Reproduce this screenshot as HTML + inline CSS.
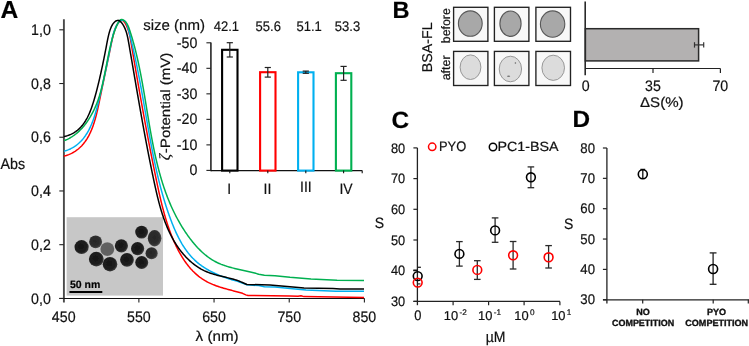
<!DOCTYPE html>
<html><head><meta charset="utf-8"><title>Figure</title>
<style>
html,body{margin:0;padding:0;background:#fff;}
body{width:749px;height:346px;overflow:hidden;}
svg{display:block;font-family:"Liberation Sans", sans-serif;will-change:transform;text-rendering:geometricPrecision;}
text{stroke:#111;stroke-width:0.2px;}
</style></head>
<body>
<svg width="749" height="346" viewBox="0 0 749 346">
<rect width="749" height="346" fill="#fff"/>
<text x="0.40" y="18.10" font-size="24.60" text-anchor="start" font-weight="bold" fill="#000" >A</text>
<line x1="63.90" y1="19.20" x2="63.90" y2="302.50" stroke="#4a4a4a" stroke-width="1.90"/>
<line x1="59.30" y1="298.50" x2="364.60" y2="298.50" stroke="#111" stroke-width="1.10"/>
<line x1="59.30" y1="29.80" x2="63.80" y2="29.80" stroke="#222" stroke-width="1.10"/>
<text x="50.80" y="34.90" font-size="15.19" text-anchor="end" font-weight="normal" fill="#111"  textLength="19.74" lengthAdjust="spacingAndGlyphs">1,0</text>
<line x1="59.30" y1="83.52" x2="63.80" y2="83.52" stroke="#222" stroke-width="1.10"/>
<text x="50.80" y="88.62" font-size="15.19" text-anchor="end" font-weight="normal" fill="#111"  textLength="19.74" lengthAdjust="spacingAndGlyphs">0,8</text>
<line x1="59.30" y1="137.24" x2="63.80" y2="137.24" stroke="#222" stroke-width="1.10"/>
<text x="50.80" y="142.34" font-size="15.19" text-anchor="end" font-weight="normal" fill="#111"  textLength="19.74" lengthAdjust="spacingAndGlyphs">0,6</text>
<line x1="59.30" y1="190.96" x2="63.80" y2="190.96" stroke="#222" stroke-width="1.10"/>
<text x="50.80" y="196.06" font-size="15.19" text-anchor="end" font-weight="normal" fill="#111"  textLength="19.74" lengthAdjust="spacingAndGlyphs">0,4</text>
<line x1="59.30" y1="244.68" x2="63.80" y2="244.68" stroke="#222" stroke-width="1.10"/>
<text x="50.80" y="249.78" font-size="15.19" text-anchor="end" font-weight="normal" fill="#111"  textLength="19.74" lengthAdjust="spacingAndGlyphs">0,2</text>
<line x1="59.30" y1="298.40" x2="63.80" y2="298.40" stroke="#222" stroke-width="1.10"/>
<text x="50.80" y="303.50" font-size="15.19" text-anchor="end" font-weight="normal" fill="#111"  textLength="19.74" lengthAdjust="spacingAndGlyphs">0,0</text>
<line x1="138.88" y1="298.50" x2="138.88" y2="302.60" stroke="#222" stroke-width="1.10"/>
<line x1="214.05" y1="298.50" x2="214.05" y2="302.60" stroke="#222" stroke-width="1.10"/>
<line x1="289.23" y1="298.50" x2="289.23" y2="302.60" stroke="#222" stroke-width="1.10"/>
<line x1="364.40" y1="298.50" x2="364.40" y2="302.60" stroke="#222" stroke-width="1.10"/>
<text x="63.70" y="321.60" font-size="15.19" text-anchor="middle" font-weight="normal" fill="#111"  textLength="23.69" lengthAdjust="spacingAndGlyphs">450</text>
<text x="138.88" y="321.60" font-size="15.19" text-anchor="middle" font-weight="normal" fill="#111"  textLength="23.69" lengthAdjust="spacingAndGlyphs">550</text>
<text x="214.05" y="321.60" font-size="15.19" text-anchor="middle" font-weight="normal" fill="#111"  textLength="23.69" lengthAdjust="spacingAndGlyphs">650</text>
<text x="289.23" y="321.60" font-size="15.19" text-anchor="middle" font-weight="normal" fill="#111"  textLength="23.69" lengthAdjust="spacingAndGlyphs">750</text>
<text x="364.40" y="321.60" font-size="15.19" text-anchor="middle" font-weight="normal" fill="#111"  textLength="23.69" lengthAdjust="spacingAndGlyphs">850</text>
<text x="217.10" y="341.30" font-size="14.30" text-anchor="middle" font-weight="normal" fill="#111" textLength="43.0" lengthAdjust="spacingAndGlyphs">&#955; (nm)</text>
<text x="0.40" y="168.80" font-size="15.30" text-anchor="start" font-weight="normal" fill="#111"  textLength="24.64" lengthAdjust="spacingAndGlyphs">Abs</text>
<defs><filter id="pb" x="-20%" y="-20%" width="140%" height="140%"><feGaussianBlur stdDeviation="0.55"/></filter><radialGradient id="pd" cx="45%" cy="45%" r="55%"><stop offset="0" stop-color="#151515"/><stop offset="0.75" stop-color="#1e1e1e"/><stop offset="1" stop-color="#3a3a3a"/></radialGradient><radialGradient id="pm" cx="45%" cy="45%" r="55%"><stop offset="0" stop-color="#262626"/><stop offset="0.75" stop-color="#2e2e2e"/><stop offset="1" stop-color="#4a4a4a"/></radialGradient><radialGradient id="pl" cx="50%" cy="50%" r="55%"><stop offset="0" stop-color="#5e5e5e"/><stop offset="0.8" stop-color="#616161"/><stop offset="1" stop-color="#7a7a7a"/></radialGradient></defs>
<rect x="66.6" y="217.2" width="96.4" height="78.4" fill="#c7c7c7"/>
<g filter="url(#pb)">
<ellipse cx="81.6" cy="247.1" rx="7.1" ry="7.0" fill="url(#pd)"/>
<ellipse cx="95.6" cy="241.8" rx="6.5" ry="6.4" fill="url(#pm)"/>
<ellipse cx="107.3" cy="249.1" rx="7.0" ry="6.9" fill="url(#pl)"/>
<ellipse cx="121.4" cy="245.8" rx="6.6" ry="6.6" fill="url(#pd)"/>
<ellipse cx="137.6" cy="248.6" rx="6.6" ry="6.6" fill="url(#pd)"/>
<ellipse cx="141.6" cy="232.1" rx="6.4" ry="6.4" fill="url(#pd)"/>
<ellipse cx="154.6" cy="238.3" rx="6.8" ry="8.2" fill="url(#pm)"/>
<ellipse cx="151.6" cy="253.3" rx="6.1" ry="6.0" fill="url(#pm)"/>
<ellipse cx="141.7" cy="262.5" rx="6.5" ry="6.5" fill="url(#pd)"/>
<ellipse cx="127.0" cy="259.8" rx="6.9" ry="6.9" fill="url(#pd)"/>
<ellipse cx="110.0" cy="264.2" rx="7.3" ry="7.2" fill="url(#pd)"/>
<ellipse cx="96.3" cy="259.1" rx="7.4" ry="7.3" fill="url(#pd)"/>
</g>
<text x="69.90" y="287.60" font-size="10.50" text-anchor="start" font-weight="bold" fill="#000" >50 nm</text>
<line x1="69.40" y1="291.90" x2="102.30" y2="291.90" stroke="#000" stroke-width="2.00"/>
<path d="M63.87,156.19 L65.13,155.84 L66.37,155.46 L67.57,155.05 L68.74,154.61 L69.87,154.13 L70.98,153.62 L72.05,153.09 L73.10,152.52 L74.11,151.93 L75.10,151.31 L76.06,150.66 L76.99,149.98 L77.90,149.28 L78.78,148.55 L79.63,147.80 L80.45,147.02 L81.25,146.22 L82.03,145.40 L82.78,144.55 L83.51,143.69 L84.22,142.80 L84.91,141.90 L85.57,140.97 L86.21,140.03 L86.83,139.07 L87.43,138.09 L88.01,137.10 L88.58,136.09 L89.12,135.06 L89.64,134.02 L90.15,132.96 L90.64,131.90 L91.12,130.82 L91.58,129.73 L92.02,128.62 L92.45,127.51 L92.87,126.39 L93.27,125.25 L93.66,124.11 L94.04,122.97 L94.40,121.81 L94.75,120.65 L95.10,119.48 L95.43,118.31 L95.75,117.13 L96.06,115.95 L96.37,114.77 L96.66,113.58 L96.95,112.39 L97.23,111.20 L97.51,110.02 L97.77,108.83 L98.04,107.64 L98.30,106.45 L98.55,105.27 L98.80,104.09 L99.05,102.91 L99.29,101.74 L99.53,100.57 L99.77,99.41 L100.01,98.25 L100.25,97.10 L100.48,95.96 L100.72,94.82 L100.95,93.68 L101.19,92.55 L101.42,91.43 L101.65,90.31 L101.88,89.19 L102.11,88.07 L102.34,86.96 L102.57,85.85 L102.80,84.74 L103.03,83.63 L103.26,82.52 L103.49,81.42 L103.72,80.31 L103.95,79.21 L104.18,78.11 L104.40,77.00 L104.63,75.90 L104.86,74.79 L105.09,73.68 L105.32,72.57 L105.55,71.46 L105.79,70.34 L106.02,69.22 L106.25,68.10 L106.49,66.98 L106.72,65.85 L106.96,64.72 L107.19,63.58 L107.43,62.44 L107.67,61.29 L107.91,60.14 L108.15,58.98 L108.40,57.81 L108.64,56.64 L108.89,55.46 L109.13,54.27 L109.38,53.07 L109.63,51.87 L109.89,50.66 L110.14,49.44 L110.40,48.21 L110.66,46.97 L110.92,45.72 L111.18,44.46 L111.45,43.19 L111.72,41.91 L111.99,40.62 L112.27,39.34 L112.56,38.06 L112.86,36.79 L113.17,35.53 L113.49,34.28 L113.83,33.06 L114.18,31.86 L114.55,30.69 L114.94,29.56 L115.35,28.46 L115.78,27.41 L116.24,26.40 L116.72,25.44 L117.23,24.53 L117.78,23.69 L118.35,22.91 L118.95,22.19 L119.59,21.55 L120.26,20.98 L120.96,20.54 L121.68,20.29 L122.40,20.34 L123.11,20.71 L123.80,21.34 L124.46,22.18 L125.09,23.15 L125.68,24.19 L126.23,25.25 L126.74,26.32 L127.21,27.41 L127.64,28.52 L128.05,29.63 L128.42,30.76 L128.76,31.90 L129.08,33.05 L129.38,34.21 L129.65,35.37 L129.91,36.54 L130.15,37.72 L130.38,38.90 L130.60,40.09 L130.81,41.28 L131.01,42.47 L131.22,43.65 L131.42,44.84 L131.62,46.03 L131.82,47.22 L132.02,48.40 L132.22,49.59 L132.42,50.77 L132.63,51.95 L132.83,53.14 L133.03,54.32 L133.23,55.50 L133.43,56.68 L133.63,57.86 L133.83,59.03 L134.04,60.21 L134.24,61.39 L134.44,62.56 L134.64,63.74 L134.84,64.91 L135.04,66.08 L135.25,67.25 L135.45,68.42 L135.65,69.60 L135.85,70.77 L136.05,71.93 L136.26,73.10 L136.46,74.27 L136.66,75.44 L136.86,76.60 L137.07,77.77 L137.27,78.94 L137.47,80.10 L137.67,81.26 L137.88,82.43 L138.08,83.59 L138.28,84.75 L138.49,85.91 L138.69,87.07 L138.90,88.24 L139.10,89.40 L139.31,90.56 L139.51,91.71 L139.71,92.87 L139.92,94.03 L140.13,95.19 L140.33,96.35 L140.54,97.50 L140.74,98.66 L140.95,99.81 L141.16,100.97 L141.36,102.12 L141.57,103.28 L141.78,104.43 L141.99,105.59 L142.19,106.74 L142.40,107.89 L142.61,109.05 L142.82,110.20 L143.03,111.35 L143.24,112.50 L143.45,113.66 L143.66,114.81 L143.87,115.96 L144.08,117.11 L144.29,118.26 L144.50,119.41 L144.72,120.56 L144.93,121.71 L145.14,122.86 L145.35,124.01 L145.57,125.16 L145.78,126.31 L146.00,127.46 L146.21,128.61 L146.43,129.76 L146.64,130.91 L146.86,132.06 L147.08,133.21 L147.29,134.35 L147.51,135.50 L147.73,136.65 L147.95,137.80 L148.17,138.95 L148.39,140.10 L148.61,141.25 L148.83,142.40 L149.05,143.55 L149.27,144.69 L149.49,145.84 L149.72,146.99 L149.94,148.14 L150.16,149.29 L150.39,150.44 L150.61,151.59 L150.84,152.74 L151.06,153.89 L151.29,155.04 L151.52,156.19 L151.75,157.34 L151.97,158.49 L152.20,159.64 L152.43,160.79 L152.66,161.94 L152.89,163.09 L153.13,164.25 L153.36,165.40 L153.59,166.55 L153.82,167.70 L154.06,168.86 L154.29,170.01 L154.53,171.16 L154.77,172.32 L155.00,173.47 L155.24,174.63 L155.48,175.78 L155.72,176.94 L155.96,178.09 L156.20,179.25 L156.44,180.40 L156.68,181.56 L156.92,182.72 L157.17,183.88 L157.41,185.03 L157.66,186.19 L157.91,187.35 L158.16,188.51 L158.41,189.67 L158.66,190.82 L158.92,191.98 L159.17,193.14 L159.43,194.30 L159.70,195.45 L159.96,196.61 L160.23,197.76 L160.50,198.92 L160.77,200.07 L161.04,201.22 L161.32,202.38 L161.60,203.53 L161.89,204.68 L162.18,205.83 L162.47,206.97 L162.77,208.12 L163.07,209.27 L163.37,210.41 L163.68,211.55 L163.99,212.69 L164.31,213.83 L164.63,214.97 L164.96,216.11 L165.29,217.24 L165.63,218.37 L165.97,219.50 L166.32,220.63 L166.67,221.76 L167.03,222.88 L167.39,224.00 L167.76,225.12 L168.13,226.24 L168.51,227.35 L168.90,228.47 L169.29,229.57 L169.69,230.68 L170.10,231.78 L170.51,232.89 L170.93,233.98 L171.36,235.08 L171.80,236.17 L172.24,237.26 L172.69,238.35 L173.14,239.43 L173.61,240.51 L174.08,241.58 L174.56,242.66 L175.04,243.72 L175.54,244.79 L176.04,245.85 L176.55,246.91 L177.08,247.96 L177.61,249.01 L178.14,250.05 L178.69,251.09 L179.25,252.12 L179.82,253.15 L180.40,254.17 L180.98,255.18 L181.58,256.19 L182.19,257.18 L182.81,258.17 L183.44,259.15 L184.08,260.12 L184.74,261.09 L185.40,262.04 L186.08,262.98 L186.77,263.91 L187.48,264.83 L188.19,265.74 L188.92,266.64 L189.66,267.52 L190.42,268.40 L191.18,269.26 L191.97,270.10 L192.76,270.94 L193.58,271.76 L194.40,272.56 L195.24,273.35 L196.10,274.13 L196.97,274.89 L197.85,275.63 L198.75,276.36 L199.67,277.07 L200.61,277.76 L201.56,278.43 L202.52,279.09 L203.51,279.73 L204.51,280.35 L205.52,280.95 L206.56,281.53 L207.61,282.10 L208.68,282.64 L209.77,283.16 L210.87,283.66 L211.99,284.15 L213.12,284.62 L214.26,285.07 L215.40,285.50 L216.56,285.92 L217.72,286.33 L218.88,286.72 L220.05,287.10 L221.22,287.47 L222.38,287.82 L223.55,288.17 L224.71,288.50 L225.86,288.83 L227.01,289.14 L228.15,289.45 L229.28,289.76 L230.40,290.05 L231.50,290.34 L232.59,290.63 L233.66,290.91 L234.71,291.19 L235.75,291.47 L236.76,291.75 L242.50,293.30 L245.80,294.90 L248.00,295.50 L290.00,296.00 L298.00,296.30 L301.00,295.80 L304.00,296.60 L364.00,297.40" fill="none" stroke="#ff0000" stroke-width="1.5" stroke-linejoin="round"/>
<path d="M63.97,151.25 L65.17,150.90 L66.34,150.52 L67.47,150.11 L68.58,149.67 L69.66,149.20 L70.71,148.70 L71.74,148.18 L72.74,147.63 L73.71,147.05 L74.66,146.44 L75.58,145.82 L76.48,145.16 L77.35,144.48 L78.20,143.78 L79.02,143.06 L79.82,142.31 L80.60,141.55 L81.36,140.76 L82.09,139.95 L82.81,139.12 L83.50,138.28 L84.18,137.41 L84.83,136.53 L85.47,135.63 L86.08,134.71 L86.68,133.78 L87.26,132.83 L87.83,131.86 L88.38,130.89 L88.91,129.90 L89.42,128.89 L89.92,127.88 L90.41,126.85 L90.88,125.81 L91.34,124.76 L91.78,123.70 L92.21,122.63 L92.63,121.55 L93.04,120.47 L93.43,119.38 L93.82,118.28 L94.19,117.17 L94.55,116.06 L94.91,114.95 L95.25,113.83 L95.59,112.70 L95.92,111.58 L96.24,110.45 L96.56,109.31 L96.87,108.18 L97.17,107.05 L97.46,105.92 L97.76,104.78 L98.04,103.65 L98.32,102.52 L98.60,101.39 L98.88,100.27 L99.15,99.15 L99.42,98.03 L99.69,96.92 L99.95,95.81 L100.22,94.70 L100.48,93.60 L100.74,92.50 L101.00,91.40 L101.25,90.31 L101.50,89.21 L101.75,88.12 L102.00,87.03 L102.25,85.95 L102.50,84.86 L102.74,83.77 L102.98,82.69 L103.23,81.61 L103.47,80.53 L103.70,79.44 L103.94,78.36 L104.18,77.28 L104.41,76.20 L104.65,75.12 L104.88,74.03 L105.11,72.95 L105.35,71.87 L105.58,70.78 L105.81,69.69 L106.04,68.61 L106.26,67.52 L106.49,66.42 L106.72,65.33 L106.95,64.24 L107.18,63.14 L107.40,62.04 L107.63,60.93 L107.86,59.82 L108.09,58.71 L108.31,57.60 L108.54,56.48 L108.77,55.36 L109.00,54.23 L109.22,53.11 L109.45,51.97 L109.68,50.83 L109.91,49.69 L110.14,48.54 L110.37,47.39 L110.61,46.23 L110.84,45.06 L111.07,43.89 L111.31,42.71 L111.54,41.53 L111.79,40.35 L112.04,39.17 L112.30,37.99 L112.57,36.82 L112.86,35.65 L113.16,34.50 L113.48,33.35 L113.82,32.22 L114.18,31.11 L114.56,30.01 L114.98,28.93 L115.42,27.88 L115.89,26.86 L116.39,25.86 L116.93,24.89 L117.51,23.95 L118.13,23.05 L118.78,22.21 L119.47,21.48 L120.19,20.88 L120.94,20.46 L121.71,20.24 L122.50,20.21 L123.26,20.36 L124.00,20.68 L124.68,21.15 L125.29,21.76 L125.84,22.49 L126.33,23.32 L126.78,24.26 L127.19,25.27 L127.56,26.34 L127.91,27.46 L128.23,28.62 L128.54,29.80 L128.85,30.98 L129.15,32.16 L129.45,33.34 L129.75,34.51 L130.04,35.69 L130.33,36.86 L130.62,38.03 L130.91,39.19 L131.19,40.36 L131.47,41.52 L131.74,42.68 L132.02,43.84 L132.29,45.00 L132.56,46.15 L132.82,47.30 L133.09,48.45 L133.35,49.60 L133.61,50.75 L133.86,51.90 L134.12,53.04 L134.37,54.18 L134.62,55.33 L134.86,56.46 L135.11,57.60 L135.35,58.74 L135.59,59.87 L135.83,61.01 L136.07,62.14 L136.30,63.27 L136.54,64.40 L136.77,65.52 L137.00,66.65 L137.22,67.78 L137.45,68.90 L137.67,70.02 L137.90,71.14 L138.12,72.27 L138.34,73.38 L138.55,74.50 L138.77,75.62 L138.98,76.74 L139.20,77.85 L139.41,78.97 L139.62,80.08 L139.83,81.19 L140.04,82.31 L140.25,83.42 L140.45,84.53 L140.66,85.64 L140.86,86.75 L141.06,87.85 L141.27,88.96 L141.47,90.07 L141.67,91.18 L141.87,92.28 L142.06,93.39 L142.26,94.49 L142.46,95.60 L142.66,96.70 L142.85,97.81 L143.05,98.91 L143.24,100.02 L143.44,101.12 L143.63,102.22 L143.82,103.33 L144.02,104.43 L144.21,105.53 L144.40,106.63 L144.59,107.74 L144.79,108.84 L144.98,109.94 L145.17,111.05 L145.36,112.15 L145.55,113.25 L145.75,114.36 L145.94,115.46 L146.13,116.56 L146.32,117.67 L146.51,118.77 L146.71,119.88 L146.90,120.98 L147.09,122.09 L147.29,123.20 L147.48,124.30 L147.68,125.41 L147.87,126.52 L148.07,127.63 L148.26,128.74 L148.46,129.84 L148.66,130.96 L148.86,132.07 L149.06,133.18 L149.26,134.29 L149.46,135.40 L149.66,136.52 L149.86,137.63 L150.07,138.75 L150.27,139.86 L150.48,140.98 L150.68,142.09 L150.89,143.21 L151.10,144.33 L151.31,145.44 L151.53,146.56 L151.74,147.68 L151.95,148.79 L152.17,149.91 L152.39,151.03 L152.61,152.15 L152.83,153.27 L153.05,154.39 L153.28,155.50 L153.50,156.62 L153.73,157.74 L153.96,158.86 L154.19,159.98 L154.42,161.10 L154.66,162.21 L154.90,163.33 L155.14,164.45 L155.38,165.57 L155.62,166.69 L155.87,167.80 L156.11,168.92 L156.36,170.04 L156.62,171.15 L156.87,172.27 L157.13,173.38 L157.39,174.50 L157.65,175.61 L157.92,176.73 L158.18,177.84 L158.45,178.95 L158.73,180.06 L159.00,181.18 L159.28,182.29 L159.56,183.40 L159.84,184.51 L160.13,185.62 L160.42,186.72 L160.71,187.83 L161.01,188.94 L161.31,190.04 L161.61,191.15 L161.91,192.25 L162.22,193.35 L162.53,194.45 L162.84,195.55 L163.16,196.65 L163.48,197.75 L163.81,198.85 L164.14,199.95 L164.47,201.04 L164.80,202.14 L165.14,203.23 L165.48,204.32 L165.83,205.41 L166.18,206.50 L166.53,207.59 L166.89,208.67 L167.25,209.76 L167.62,210.84 L167.99,211.92 L168.36,213.00 L168.74,214.08 L169.12,215.16 L169.50,216.23 L169.89,217.31 L170.29,218.38 L170.68,219.45 L171.09,220.52 L171.49,221.59 L171.90,222.65 L172.32,223.72 L172.74,224.78 L173.17,225.83 L173.60,226.89 L174.04,227.94 L174.49,228.99 L174.94,230.03 L175.40,231.07 L175.86,232.10 L176.34,233.13 L176.82,234.16 L177.31,235.18 L177.80,236.19 L178.31,237.20 L178.82,238.21 L179.35,239.20 L179.88,240.19 L180.42,241.18 L180.97,242.15 L181.53,243.12 L182.10,244.09 L182.69,245.04 L183.28,245.99 L183.88,246.93 L184.50,247.86 L185.12,248.78 L185.76,249.69 L186.41,250.59 L187.08,251.48 L187.75,252.37 L188.44,253.24 L189.14,254.10 L189.86,254.96 L190.58,255.80 L191.33,256.63 L192.08,257.45 L192.85,258.26 L193.64,259.05 L194.44,259.84 L195.26,260.61 L196.09,261.37 L196.93,262.12 L197.80,262.85 L198.68,263.57 L199.57,264.28 L200.49,264.97 L201.41,265.65 L202.36,266.31 L203.32,266.96 L204.29,267.60 L205.27,268.23 L206.27,268.84 L207.28,269.44 L208.29,270.02 L209.32,270.59 L210.36,271.15 L211.40,271.70 L212.45,272.23 L213.51,272.75 L214.57,273.26 L215.64,273.75 L216.71,274.24 L217.79,274.71 L218.87,275.16 L219.95,275.61 L221.03,276.04 L222.11,276.46 L223.19,276.87 L224.27,277.27 L225.35,277.65 L226.42,278.03 L227.49,278.39 L228.55,278.74 L229.61,279.08 L230.67,279.40 L231.71,279.72 L232.75,280.02 L233.78,280.31 L234.80,280.60 L235.81,280.87 L236.81,281.13 L246.90,284.80 L258.90,285.60 L264.40,286.70 L275.00,287.10 L290.00,288.50 L306.00,290.10 L336.00,291.20 L364.00,291.20" fill="none" stroke="#00b0f0" stroke-width="1.5" stroke-linejoin="round"/>
<path d="M64.23,140.61 L65.28,140.20 L66.30,139.77 L67.32,139.31 L68.32,138.82 L69.30,138.31 L70.27,137.77 L71.22,137.20 L72.16,136.62 L73.08,136.00 L73.99,135.37 L74.89,134.71 L75.77,134.03 L76.63,133.33 L77.48,132.61 L78.32,131.86 L79.14,131.10 L79.95,130.32 L80.74,129.52 L81.52,128.70 L82.28,127.87 L83.03,127.02 L83.77,126.15 L84.49,125.27 L85.20,124.37 L85.89,123.46 L86.57,122.53 L87.24,121.59 L87.89,120.64 L88.53,119.68 L89.15,118.71 L89.76,117.72 L90.36,116.73 L90.94,115.72 L91.51,114.71 L92.07,113.69 L92.61,112.66 L93.14,111.62 L93.66,110.58 L94.16,109.53 L94.65,108.48 L95.13,107.42 L95.59,106.36 L96.04,105.29 L96.48,104.22 L96.90,103.15 L97.31,102.08 L97.71,101.01 L98.10,99.93 L98.47,98.86 L98.83,97.79 L99.18,96.71 L99.51,95.64 L99.84,94.56 L100.16,93.49 L100.46,92.41 L100.76,91.34 L101.05,90.26 L101.33,89.18 L101.60,88.10 L101.87,87.02 L102.13,85.94 L102.38,84.86 L102.63,83.77 L102.87,82.68 L103.11,81.60 L103.34,80.50 L103.57,79.41 L103.80,78.31 L104.03,77.21 L104.25,76.11 L104.48,75.01 L104.70,73.90 L104.92,72.79 L105.14,71.68 L105.36,70.56 L105.58,69.45 L105.80,68.33 L106.02,67.21 L106.24,66.09 L106.46,64.97 L106.68,63.84 L106.90,62.72 L107.12,61.60 L107.34,60.47 L107.57,59.35 L107.79,58.22 L108.02,57.10 L108.25,55.98 L108.48,54.86 L108.72,53.74 L108.95,52.62 L109.19,51.50 L109.43,50.38 L109.67,49.27 L109.92,48.16 L110.17,47.05 L110.42,45.94 L110.68,44.84 L110.94,43.74 L111.21,42.64 L111.48,41.54 L111.75,40.45 L112.04,39.36 L112.33,38.27 L112.64,37.18 L112.95,36.09 L113.28,35.00 L113.62,33.92 L113.98,32.83 L114.35,31.73 L114.74,30.64 L115.15,29.55 L115.58,28.45 L116.03,27.35 L116.51,26.24 L117.01,25.14 L117.53,24.02 L118.08,22.92 L118.67,21.87 L119.29,20.94 L119.97,20.20 L120.70,19.72 L121.48,19.53 L122.31,19.62 L123.15,19.93 L123.97,20.43 L124.76,21.07 L125.49,21.79 L126.15,22.59 L126.75,23.44 L127.29,24.34 L127.79,25.29 L128.24,26.28 L128.66,27.30 L129.05,28.34 L129.42,29.40 L129.78,30.48 L130.13,31.55 L130.47,32.63 L130.81,33.71 L131.15,34.80 L131.48,35.88 L131.81,36.97 L132.13,38.05 L132.45,39.14 L132.76,40.23 L133.07,41.33 L133.38,42.42 L133.68,43.52 L133.98,44.61 L134.27,45.71 L134.56,46.81 L134.85,47.91 L135.13,49.02 L135.41,50.12 L135.68,51.23 L135.96,52.33 L136.23,53.44 L136.49,54.55 L136.75,55.66 L137.01,56.77 L137.27,57.89 L137.52,59.00 L137.77,60.12 L138.02,61.23 L138.27,62.35 L138.51,63.47 L138.75,64.59 L138.98,65.71 L139.22,66.83 L139.45,67.95 L139.68,69.08 L139.90,70.20 L140.13,71.33 L140.35,72.45 L140.57,73.58 L140.79,74.71 L141.01,75.83 L141.22,76.96 L141.43,78.09 L141.64,79.22 L141.85,80.35 L142.06,81.49 L142.26,82.62 L142.47,83.75 L142.67,84.88 L142.87,86.02 L143.07,87.15 L143.27,88.29 L143.47,89.42 L143.66,90.56 L143.86,91.69 L144.05,92.83 L144.24,93.97 L144.44,95.10 L144.63,96.24 L144.82,97.38 L145.01,98.52 L145.20,99.65 L145.39,100.79 L145.57,101.93 L145.76,103.07 L145.95,104.20 L146.14,105.34 L146.32,106.48 L146.51,107.62 L146.70,108.76 L146.89,109.89 L147.07,111.03 L147.26,112.17 L147.45,113.31 L147.63,114.44 L147.82,115.58 L148.01,116.72 L148.20,117.85 L148.39,118.99 L148.58,120.13 L148.77,121.26 L148.96,122.40 L149.15,123.53 L149.35,124.67 L149.54,125.80 L149.74,126.93 L149.93,128.07 L150.13,129.20 L150.33,130.33 L150.53,131.46 L150.73,132.59 L150.93,133.72 L151.14,134.85 L151.34,135.98 L151.55,137.10 L151.76,138.23 L151.97,139.36 L152.19,140.48 L152.40,141.61 L152.62,142.73 L152.84,143.85 L153.06,144.97 L153.28,146.09 L153.50,147.21 L153.73,148.33 L153.96,149.45 L154.19,150.57 L154.43,151.68 L154.67,152.80 L154.91,153.91 L155.15,155.02 L155.39,156.13 L155.64,157.24 L155.89,158.35 L156.15,159.46 L156.41,160.56 L156.67,161.67 L156.93,162.77 L157.20,163.87 L157.47,164.97 L157.74,166.07 L158.02,167.16 L158.30,168.26 L158.58,169.35 L158.87,170.45 L159.16,171.54 L159.46,172.63 L159.76,173.71 L160.06,174.80 L160.37,175.88 L160.68,176.96 L160.99,178.05 L161.31,179.12 L161.64,180.20 L161.97,181.28 L162.30,182.35 L162.63,183.42 L162.98,184.49 L163.32,185.56 L163.67,186.62 L164.03,187.69 L164.39,188.75 L164.75,189.81 L165.12,190.86 L165.50,191.92 L165.88,192.97 L166.26,194.02 L166.66,195.07 L167.05,196.12 L167.45,197.16 L167.86,198.20 L168.27,199.24 L168.69,200.28 L169.11,201.31 L169.54,202.34 L169.98,203.37 L170.42,204.40 L170.86,205.43 L171.31,206.45 L171.77,207.47 L172.24,208.49 L172.71,209.50 L173.18,210.51 L173.67,211.52 L174.16,212.53 L174.65,213.53 L175.15,214.53 L175.66,215.53 L176.18,216.53 L176.70,217.52 L177.23,218.51 L177.77,219.50 L178.31,220.48 L178.86,221.46 L179.41,222.44 L179.98,223.42 L180.55,224.39 L181.13,225.36 L181.71,226.32 L182.31,227.29 L182.91,228.25 L183.51,229.20 L184.13,230.16 L184.75,231.11 L185.38,232.06 L186.02,233.00 L186.67,233.94 L187.32,234.88 L187.98,235.81 L188.65,236.74 L189.33,237.67 L190.02,238.58 L190.72,239.50 L191.42,240.41 L192.13,241.31 L192.85,242.20 L193.58,243.09 L194.32,243.97 L195.07,244.84 L195.83,245.70 L196.60,246.55 L197.37,247.40 L198.16,248.23 L198.96,249.05 L199.76,249.86 L200.58,250.66 L201.41,251.45 L202.24,252.22 L203.09,252.98 L203.95,253.73 L204.81,254.47 L205.69,255.18 L206.58,255.89 L207.48,256.58 L208.39,257.25 L209.31,257.91 L210.25,258.55 L211.19,259.17 L212.15,259.77 L213.12,260.36 L214.09,260.93 L215.09,261.48 L216.09,262.01 L217.10,262.52 L218.13,263.01 L219.17,263.47 L220.22,263.92 L221.28,264.36 L222.35,264.77 L223.43,265.17 L224.52,265.55 L225.61,265.91 L226.72,266.27 L227.82,266.60 L228.94,266.93 L230.06,267.25 L231.18,267.55 L232.31,267.85 L233.44,268.13 L234.57,268.41 L235.71,268.68 L236.84,268.95 L237.98,269.21 L239.12,269.46 L240.25,269.71 L241.38,269.96 L242.51,270.21 L243.64,270.46 L244.77,270.70 L245.89,270.95 L247.00,271.20 L248.11,271.45 L249.21,271.70 L250.31,271.96 L251.40,272.22 L252.48,272.49 L253.55,272.76 L254.61,273.05 L255.66,273.34 L256.70,273.64 L257.73,273.95 L258.74,274.27 L264.40,275.20 L275.00,275.80 L290.00,277.30 L311.00,278.90 L337.00,280.30 L364.00,280.50" fill="none" stroke="#00b050" stroke-width="1.5" stroke-linejoin="round"/>
<path d="M63.89,136.57 L65.13,136.29 L66.33,135.97 L67.50,135.61 L68.63,135.22 L69.73,134.80 L70.79,134.34 L71.83,133.85 L72.83,133.33 L73.80,132.78 L74.75,132.19 L75.66,131.58 L76.54,130.94 L77.40,130.28 L78.23,129.58 L79.03,128.86 L79.81,128.12 L80.56,127.35 L81.29,126.56 L81.99,125.74 L82.67,124.91 L83.33,124.05 L83.97,123.17 L84.59,122.27 L85.18,121.36 L85.76,120.43 L86.31,119.48 L86.85,118.51 L87.38,117.53 L87.88,116.53 L88.37,115.52 L88.84,114.50 L89.30,113.47 L89.75,112.42 L90.18,111.36 L90.60,110.30 L91.01,109.22 L91.40,108.14 L91.79,107.05 L92.16,105.96 L92.53,104.86 L92.89,103.75 L93.24,102.64 L93.58,101.53 L93.92,100.41 L94.25,99.30 L94.58,98.18 L94.90,97.06 L95.21,95.94 L95.53,94.82 L95.83,93.71 L96.13,92.59 L96.43,91.47 L96.72,90.36 L97.01,89.25 L97.29,88.14 L97.57,87.03 L97.84,85.93 L98.11,84.83 L98.38,83.73 L98.64,82.64 L98.90,81.55 L99.16,80.46 L99.41,79.39 L99.66,78.31 L99.90,77.25 L100.14,76.19 L100.38,75.13 L100.62,74.09 L100.85,73.04 L101.08,72.01 L101.31,70.97 L101.53,69.94 L101.76,68.91 L101.98,67.88 L102.20,66.86 L102.42,65.83 L102.64,64.80 L102.86,63.77 L103.07,62.73 L103.29,61.69 L103.50,60.64 L103.72,59.59 L103.94,58.53 L104.15,57.46 L104.37,56.39 L104.58,55.30 L104.80,54.20 L105.02,53.10 L105.24,51.98 L105.46,50.84 L105.69,49.69 L105.91,48.53 L106.14,47.35 L106.37,46.16 L106.60,44.94 L106.83,43.71 L107.07,42.46 L107.31,41.20 L107.56,39.93 L107.82,38.66 L108.09,37.39 L108.38,36.13 L108.67,34.89 L108.98,33.66 L109.31,32.45 L109.66,31.27 L110.03,30.12 L110.42,29.01 L110.84,27.94 L111.28,26.91 L111.75,25.94 L112.25,25.02 L112.78,24.17 L113.34,23.38 L113.94,22.66 L114.58,22.02 L115.25,21.45 L115.96,20.98 L116.71,20.60 L117.49,20.38 L118.27,20.35 L119.06,20.57 L119.83,21.01 L120.58,21.63 L121.31,22.40 L122.00,23.26 L122.65,24.19 L123.25,25.13 L123.81,26.10 L124.33,27.09 L124.80,28.10 L125.24,29.13 L125.65,30.18 L126.03,31.24 L126.38,32.32 L126.70,33.41 L126.99,34.51 L127.27,35.62 L127.53,36.74 L127.77,37.87 L128.00,39.00 L128.21,40.14 L128.42,41.28 L128.63,42.43 L128.83,43.57 L129.02,44.71 L129.22,45.85 L129.42,46.99 L129.62,48.13 L129.81,49.27 L130.01,50.41 L130.21,51.54 L130.40,52.68 L130.60,53.81 L130.79,54.94 L130.99,56.08 L131.18,57.21 L131.37,58.33 L131.57,59.46 L131.76,60.59 L131.96,61.72 L132.15,62.84 L132.34,63.97 L132.53,65.09 L132.73,66.21 L132.92,67.33 L133.11,68.45 L133.30,69.57 L133.50,70.69 L133.69,71.81 L133.88,72.93 L134.07,74.05 L134.26,75.16 L134.45,76.28 L134.64,77.39 L134.83,78.50 L135.03,79.62 L135.22,80.73 L135.41,81.84 L135.60,82.95 L135.79,84.06 L135.98,85.17 L136.17,86.28 L136.36,87.39 L136.55,88.49 L136.74,89.60 L136.94,90.71 L137.13,91.81 L137.32,92.92 L137.51,94.02 L137.70,95.13 L137.89,96.23 L138.08,97.33 L138.28,98.44 L138.47,99.54 L138.66,100.64 L138.85,101.74 L139.04,102.84 L139.24,103.94 L139.43,105.04 L139.62,106.14 L139.82,107.24 L140.01,108.34 L140.20,109.44 L140.40,110.54 L140.59,111.64 L140.79,112.74 L140.98,113.83 L141.18,114.93 L141.37,116.03 L141.57,117.12 L141.77,118.22 L141.96,119.32 L142.16,120.41 L142.36,121.51 L142.56,122.61 L142.75,123.70 L142.95,124.80 L143.15,125.89 L143.35,126.99 L143.55,128.09 L143.75,129.18 L143.95,130.28 L144.16,131.37 L144.36,132.47 L144.56,133.56 L144.76,134.66 L144.97,135.75 L145.17,136.85 L145.38,137.95 L145.58,139.04 L145.79,140.14 L145.99,141.23 L146.20,142.33 L146.41,143.43 L146.62,144.52 L146.83,145.62 L147.04,146.72 L147.25,147.81 L147.46,148.91 L147.67,150.01 L147.88,151.11 L148.09,152.21 L148.31,153.30 L148.52,154.40 L148.74,155.50 L148.95,156.60 L149.17,157.70 L149.39,158.80 L149.61,159.90 L149.83,161.00 L150.05,162.10 L150.27,163.21 L150.49,164.31 L150.71,165.41 L150.94,166.51 L151.16,167.62 L151.39,168.72 L151.61,169.83 L151.84,170.93 L152.07,172.04 L152.30,173.14 L152.53,174.25 L152.76,175.36 L152.99,176.47 L153.22,177.58 L153.46,178.69 L153.69,179.80 L153.93,180.91 L154.16,182.02 L154.40,183.13 L154.64,184.24 L154.88,185.35 L155.13,186.47 L155.37,187.58 L155.62,188.69 L155.87,189.80 L156.12,190.91 L156.38,192.03 L156.64,193.14 L156.90,194.25 L157.16,195.35 L157.43,196.46 L157.70,197.57 L157.97,198.68 L158.25,199.78 L158.53,200.88 L158.82,201.98 L159.11,203.08 L159.40,204.18 L159.70,205.28 L160.01,206.37 L160.32,207.47 L160.63,208.56 L160.95,209.64 L161.27,210.73 L161.61,211.81 L161.94,212.89 L162.28,213.97 L162.63,215.04 L162.99,216.11 L163.35,217.18 L163.71,218.24 L164.09,219.31 L164.47,220.36 L164.86,221.42 L165.25,222.47 L165.65,223.51 L166.06,224.56 L166.48,225.59 L166.91,226.63 L167.34,227.66 L167.78,228.68 L168.23,229.70 L168.69,230.72 L169.16,231.73 L169.63,232.74 L170.12,233.74 L170.61,234.73 L171.12,235.72 L171.63,236.71 L172.15,237.69 L172.68,238.66 L173.23,239.63 L173.78,240.59 L174.34,241.55 L174.91,242.50 L175.50,243.44 L176.09,244.38 L176.70,245.31 L177.32,246.24 L177.94,247.16 L178.58,248.07 L179.23,248.97 L179.89,249.86 L180.57,250.75 L181.25,251.62 L181.94,252.49 L182.65,253.35 L183.37,254.20 L184.10,255.03 L184.84,255.86 L185.59,256.68 L186.35,257.48 L187.13,258.27 L187.92,259.05 L188.72,259.82 L189.53,260.58 L190.35,261.32 L191.18,262.04 L192.03,262.76 L192.88,263.46 L193.75,264.14 L194.64,264.81 L195.53,265.47 L196.43,266.10 L197.35,266.73 L198.28,267.33 L199.22,267.92 L200.18,268.49 L201.14,269.05 L202.12,269.58 L203.11,270.10 L204.11,270.60 L205.13,271.08 L206.16,271.54 L207.20,271.98 L208.25,272.40 L209.31,272.80 L210.39,273.18 L211.47,273.55 L212.57,273.90 L213.67,274.23 L214.78,274.55 L215.90,274.86 L217.02,275.16 L218.14,275.45 L219.27,275.74 L220.40,276.01 L221.53,276.28 L222.66,276.55 L223.79,276.82 L224.92,277.08 L226.04,277.35 L227.16,277.61 L228.28,277.88 L229.38,278.16 L230.49,278.44 L231.58,278.72 L232.66,279.02 L233.74,279.32 L234.80,279.64 L235.85,279.96 L236.89,280.31 L237.91,280.66 L238.92,281.04 L239.92,281.43 L240.89,281.84 L241.85,282.27 L246.90,284.50 L270.00,284.90 L290.00,286.80 L304.00,288.00 L333.00,288.40 L340.00,289.00 L364.00,289.00" fill="none" stroke="#000" stroke-width="1.5" stroke-linejoin="round"/>
<line x1="210.90" y1="42.60" x2="210.90" y2="171.20" stroke="#333" stroke-width="1.70"/>
<line x1="210.90" y1="170.60" x2="362.20" y2="170.60" stroke="#111" stroke-width="1.10"/>
<line x1="362.20" y1="170.60" x2="362.20" y2="173.30" stroke="#111" stroke-width="1.10"/>
<line x1="206.40" y1="42.80" x2="210.90" y2="42.80" stroke="#222" stroke-width="1.10"/>
<text x="197.30" y="47.80" font-size="15.19" text-anchor="end" font-weight="normal" fill="#111"  textLength="20.52" lengthAdjust="spacingAndGlyphs">-50</text>
<line x1="206.40" y1="68.32" x2="210.90" y2="68.32" stroke="#222" stroke-width="1.10"/>
<text x="197.30" y="73.32" font-size="15.19" text-anchor="end" font-weight="normal" fill="#111"  textLength="20.52" lengthAdjust="spacingAndGlyphs">-40</text>
<line x1="206.40" y1="93.84" x2="210.90" y2="93.84" stroke="#222" stroke-width="1.10"/>
<text x="197.30" y="98.84" font-size="15.19" text-anchor="end" font-weight="normal" fill="#111"  textLength="20.52" lengthAdjust="spacingAndGlyphs">-30</text>
<line x1="206.40" y1="119.36" x2="210.90" y2="119.36" stroke="#222" stroke-width="1.10"/>
<text x="197.30" y="124.36" font-size="15.19" text-anchor="end" font-weight="normal" fill="#111"  textLength="20.52" lengthAdjust="spacingAndGlyphs">-20</text>
<line x1="206.40" y1="144.88" x2="210.90" y2="144.88" stroke="#222" stroke-width="1.10"/>
<text x="197.30" y="149.88" font-size="15.19" text-anchor="end" font-weight="normal" fill="#111"  textLength="20.52" lengthAdjust="spacingAndGlyphs">-10</text>
<line x1="206.40" y1="170.40" x2="210.90" y2="170.40" stroke="#222" stroke-width="1.10"/>
<text x="197.30" y="175.40" font-size="15.19" text-anchor="end" font-weight="normal" fill="#111"  textLength="7.90" lengthAdjust="spacingAndGlyphs">0</text>
<rect x="222.10" y="49.80" width="15.4" height="120.80" fill="none" stroke="#000" stroke-width="2.1"/>
<line x1="229.80" y1="42.70" x2="229.80" y2="57.00" stroke="#222" stroke-width="1.20"/>
<line x1="226.70" y1="42.70" x2="232.90" y2="42.70" stroke="#222" stroke-width="1.20"/>
<line x1="226.70" y1="57.00" x2="232.90" y2="57.00" stroke="#222" stroke-width="1.20"/>
<line x1="229.80" y1="170.60" x2="229.80" y2="173.30" stroke="#111" stroke-width="1.10"/>
<rect x="260.10" y="72.20" width="15.4" height="98.40" fill="none" stroke="#ff0000" stroke-width="2.1"/>
<line x1="267.80" y1="67.50" x2="267.80" y2="77.10" stroke="#222" stroke-width="1.20"/>
<line x1="264.70" y1="67.50" x2="270.90" y2="67.50" stroke="#222" stroke-width="1.20"/>
<line x1="264.70" y1="77.10" x2="270.90" y2="77.10" stroke="#222" stroke-width="1.20"/>
<line x1="267.80" y1="170.60" x2="267.80" y2="173.30" stroke="#111" stroke-width="1.10"/>
<rect x="298.10" y="72.30" width="15.4" height="98.30" fill="none" stroke="#00b0f0" stroke-width="2.1"/>
<line x1="305.80" y1="71.10" x2="305.80" y2="73.30" stroke="#222" stroke-width="1.20"/>
<line x1="302.70" y1="71.10" x2="308.90" y2="71.10" stroke="#222" stroke-width="1.20"/>
<line x1="302.70" y1="73.30" x2="308.90" y2="73.30" stroke="#222" stroke-width="1.20"/>
<line x1="305.80" y1="170.60" x2="305.80" y2="173.30" stroke="#111" stroke-width="1.10"/>
<rect x="335.90" y="73.20" width="15.4" height="97.40" fill="none" stroke="#00b050" stroke-width="2.1"/>
<line x1="343.60" y1="66.40" x2="343.60" y2="80.30" stroke="#222" stroke-width="1.20"/>
<line x1="340.50" y1="66.40" x2="346.70" y2="66.40" stroke="#222" stroke-width="1.20"/>
<line x1="340.50" y1="80.30" x2="346.70" y2="80.30" stroke="#222" stroke-width="1.20"/>
<line x1="343.60" y1="170.60" x2="343.60" y2="173.30" stroke="#111" stroke-width="1.10"/>
<text x="0.00" y="0.00" font-size="13.50" text-anchor="start" font-weight="normal" fill="#111" transform="translate(169.5,153.2) rotate(-90)" textLength="100.6" lengthAdjust="spacingAndGlyphs">-Potential (mV)</text>
<text transform="translate(170.2,160.3) rotate(-90)" font-family="Liberation Serif" font-style="italic" font-size="15.6" fill="#111">&#950;</text>
<text x="143.20" y="30.20" font-size="14.70" text-anchor="start" font-weight="normal" fill="#111" textLength="61.8" lengthAdjust="spacingAndGlyphs">size (nm)</text>
<text x="226.40" y="30.60" font-size="13.91" text-anchor="middle" font-weight="normal" fill="#111"  textLength="25.30" lengthAdjust="spacingAndGlyphs">42.1</text>
<text x="268.25" y="30.60" font-size="13.91" text-anchor="middle" font-weight="normal" fill="#111"  textLength="25.30" lengthAdjust="spacingAndGlyphs">55.6</text>
<text x="309.20" y="30.60" font-size="13.91" text-anchor="middle" font-weight="normal" fill="#111"  textLength="25.30" lengthAdjust="spacingAndGlyphs">51.1</text>
<text x="347.50" y="30.60" font-size="13.91" text-anchor="middle" font-weight="normal" fill="#111"  textLength="25.30" lengthAdjust="spacingAndGlyphs">53.3</text>
<text x="229.20" y="194.20" font-size="14.98" text-anchor="middle" font-weight="normal" fill="#111"  textLength="3.89" lengthAdjust="spacingAndGlyphs">I</text>
<text x="267.40" y="194.20" font-size="14.98" text-anchor="middle" font-weight="normal" fill="#111"  textLength="7.78" lengthAdjust="spacingAndGlyphs">II</text>
<text x="305.90" y="192.20" font-size="14.98" text-anchor="middle" font-weight="normal" fill="#111"  textLength="11.67" lengthAdjust="spacingAndGlyphs">III</text>
<text x="346.10" y="194.20" font-size="14.98" text-anchor="middle" font-weight="normal" fill="#111"  textLength="13.23" lengthAdjust="spacingAndGlyphs">IV</text>
<text x="392.60" y="18.30" font-size="23.60" text-anchor="start" font-weight="bold" fill="#000" >B</text>
<text x="0.00" y="0.00" font-size="14.20" text-anchor="middle" font-weight="normal" fill="#111" transform="translate(431.6,47.3) rotate(-90)">BSA-FL</text>
<text x="0.00" y="0.00" font-size="12.30" text-anchor="middle" font-weight="normal" fill="#111" transform="translate(450.0,25.7) rotate(-90)">before</text>
<text x="0.00" y="0.00" font-size="12.40" text-anchor="middle" font-weight="normal" fill="#111" transform="translate(450.0,67.9) rotate(-90)">after</text>
<rect x="453.60" y="7.30" width="34.30" height="34.00" fill="#f8f8f8" stroke="#222" stroke-width="1.35"/>
<ellipse cx="470.30" cy="23.60" rx="11.90" ry="12.70" fill="#a8a8a8" stroke="#585858" stroke-width="1.1"/>
<rect x="494.40" y="7.30" width="34.50" height="34.00" fill="#f8f8f8" stroke="#222" stroke-width="1.35"/>
<ellipse cx="510.50" cy="23.70" rx="10.60" ry="12.70" fill="#a8a8a8" stroke="#585858" stroke-width="1.1"/>
<rect x="535.90" y="7.30" width="34.60" height="34.00" fill="#f8f8f8" stroke="#222" stroke-width="1.35"/>
<ellipse cx="552.60" cy="24.10" rx="12.20" ry="13.20" fill="#a8a8a8" stroke="#585858" stroke-width="1.1"/>
<rect x="453.60" y="51.40" width="34.30" height="34.10" fill="#f8f8f8" stroke="#222" stroke-width="1.35"/>
<ellipse cx="470.50" cy="67.20" rx="10.40" ry="12.30" fill="#dcdcdc" stroke="#8e8e8e" stroke-width="0.9"/>
<rect x="494.40" y="51.40" width="34.50" height="34.10" fill="#f8f8f8" stroke="#222" stroke-width="1.35"/>
<ellipse cx="510.40" cy="69.00" rx="11.20" ry="12.80" fill="#dcdcdc" stroke="#8e8e8e" stroke-width="0.9"/>
<rect x="535.90" y="51.40" width="34.60" height="34.10" fill="#f8f8f8" stroke="#222" stroke-width="1.35"/>
<ellipse cx="553.20" cy="67.80" rx="11.30" ry="12.60" fill="#dcdcdc" stroke="#8e8e8e" stroke-width="0.9"/>
<circle cx="515.4" cy="63" r="0.8" fill="#666"/><ellipse cx="508.6" cy="76.3" rx="1.6" ry="0.8" fill="#777"/>
<rect x="585.4" y="28.7" width="113.2" height="32.2" fill="#b3b1b1" stroke="#2a2a2a" stroke-width="1.5"/>
<line x1="585.20" y1="1.50" x2="585.20" y2="75.20" stroke="#2a2a2a" stroke-width="1.60"/>
<line x1="585.40" y1="68.50" x2="720.40" y2="68.50" stroke="#222" stroke-width="1.20"/>
<line x1="653.00" y1="68.50" x2="653.00" y2="72.90" stroke="#222" stroke-width="1.20"/>
<line x1="720.40" y1="68.50" x2="720.40" y2="72.90" stroke="#222" stroke-width="1.20"/>
<line x1="694.50" y1="44.90" x2="703.70" y2="44.90" stroke="#333" stroke-width="1.20"/>
<line x1="694.50" y1="42.20" x2="694.50" y2="47.60" stroke="#333" stroke-width="1.20"/>
<line x1="703.70" y1="42.20" x2="703.70" y2="47.60" stroke="#333" stroke-width="1.20"/>
<text x="585.70" y="91.00" font-size="15.19" text-anchor="middle" font-weight="normal" fill="#111"  textLength="7.90" lengthAdjust="spacingAndGlyphs">0</text>
<text x="653.00" y="91.00" font-size="15.19" text-anchor="middle" font-weight="normal" fill="#111"  textLength="15.79" lengthAdjust="spacingAndGlyphs">35</text>
<text x="720.30" y="91.00" font-size="15.19" text-anchor="middle" font-weight="normal" fill="#111"  textLength="15.79" lengthAdjust="spacingAndGlyphs">70</text>
<text x="661.80" y="106.60" font-size="14.00" text-anchor="middle" font-weight="normal" fill="#111" textLength="43.6" lengthAdjust="spacingAndGlyphs">&#916;S(%)</text>
<text x="391.40" y="127.50" font-size="23.40" text-anchor="start" font-weight="bold" fill="#000" textLength="17.6" lengthAdjust="spacingAndGlyphs">C</text>
<line x1="417.40" y1="147.90" x2="417.40" y2="305.20" stroke="#222" stroke-width="1.30"/>
<line x1="413.40" y1="301.40" x2="560.00" y2="301.40" stroke="#222" stroke-width="1.30"/>
<line x1="413.40" y1="147.90" x2="417.40" y2="147.90" stroke="#222" stroke-width="1.20"/>
<text x="405.20" y="152.50" font-size="13.70" text-anchor="end" font-weight="normal" fill="#111"  textLength="14.24" lengthAdjust="spacingAndGlyphs">80</text>
<line x1="413.40" y1="178.60" x2="417.40" y2="178.60" stroke="#222" stroke-width="1.20"/>
<text x="405.20" y="183.20" font-size="13.70" text-anchor="end" font-weight="normal" fill="#111"  textLength="14.24" lengthAdjust="spacingAndGlyphs">70</text>
<line x1="413.40" y1="209.30" x2="417.40" y2="209.30" stroke="#222" stroke-width="1.20"/>
<text x="405.20" y="213.90" font-size="13.70" text-anchor="end" font-weight="normal" fill="#111"  textLength="14.24" lengthAdjust="spacingAndGlyphs">60</text>
<line x1="413.40" y1="240.00" x2="417.40" y2="240.00" stroke="#222" stroke-width="1.20"/>
<text x="405.20" y="244.60" font-size="13.70" text-anchor="end" font-weight="normal" fill="#111"  textLength="14.24" lengthAdjust="spacingAndGlyphs">50</text>
<line x1="413.40" y1="270.70" x2="417.40" y2="270.70" stroke="#222" stroke-width="1.20"/>
<text x="405.20" y="275.30" font-size="13.70" text-anchor="end" font-weight="normal" fill="#111"  textLength="14.24" lengthAdjust="spacingAndGlyphs">40</text>
<line x1="413.40" y1="301.40" x2="417.40" y2="301.40" stroke="#222" stroke-width="1.20"/>
<text x="405.20" y="306.00" font-size="13.70" text-anchor="end" font-weight="normal" fill="#111"  textLength="14.24" lengthAdjust="spacingAndGlyphs">30</text>
<line x1="453.10" y1="301.40" x2="453.10" y2="305.20" stroke="#222" stroke-width="1.20"/>
<line x1="488.60" y1="301.40" x2="488.60" y2="305.20" stroke="#222" stroke-width="1.20"/>
<line x1="524.10" y1="301.40" x2="524.10" y2="305.20" stroke="#222" stroke-width="1.20"/>
<line x1="559.90" y1="301.40" x2="559.90" y2="305.20" stroke="#222" stroke-width="1.20"/>
<text x="379.30" y="227.50" font-size="14.98" text-anchor="middle" font-weight="normal" fill="#111"  textLength="9.34" lengthAdjust="spacingAndGlyphs">S</text>
<text x="417.80" y="319.50" font-size="13.80" text-anchor="middle" font-weight="normal" fill="#111"  textLength="7.17" lengthAdjust="spacingAndGlyphs">0</text>
<text x="443.80" y="319.5" font-size="12.9" fill="#111">10<tspan font-size="8.2" dx="1.3" dy="-4.2">-2</tspan></text>
<text x="478.10" y="319.5" font-size="12.9" fill="#111">10<tspan font-size="8.2" dx="1.3" dy="-4.2">-1</tspan></text>
<text x="514.30" y="319.5" font-size="12.9" fill="#111">10<tspan font-size="8.2" dx="1.3" dy="-4.2">0</tspan></text>
<text x="551.20" y="319.5" font-size="12.9" fill="#111">10<tspan font-size="8.2" dx="1.3" dy="-4.2">1</tspan></text>
<text x="495.60" y="342.40" font-size="14.98" text-anchor="middle" font-weight="normal" fill="#111"  textLength="19.73" lengthAdjust="spacingAndGlyphs">&#181;M</text>
<circle cx="432.2" cy="146.8" r="3.7" fill="none" stroke="#ff0000" stroke-width="1.5"/>
<text x="439.00" y="151.40" font-size="13.80" text-anchor="start" font-weight="normal" fill="#111"  textLength="27.24" lengthAdjust="spacingAndGlyphs">PYO</text>
<circle cx="493.0" cy="147.0" r="3.7" fill="none" stroke="#000" stroke-width="1.5"/>
<text x="497.40" y="151.20" font-size="13.30" text-anchor="start" font-weight="normal" fill="#111" textLength="61.2" lengthAdjust="spacingAndGlyphs">PC1-BSA</text>
<line x1="459.40" y1="241.60" x2="459.40" y2="266.10" stroke="#2a2a2a" stroke-width="1.30"/>
<line x1="456.10" y1="241.60" x2="462.70" y2="241.60" stroke="#2a2a2a" stroke-width="1.30"/>
<line x1="456.10" y1="266.10" x2="462.70" y2="266.10" stroke="#2a2a2a" stroke-width="1.30"/>
<line x1="495.10" y1="217.90" x2="495.10" y2="242.30" stroke="#2a2a2a" stroke-width="1.30"/>
<line x1="491.80" y1="217.90" x2="498.40" y2="217.90" stroke="#2a2a2a" stroke-width="1.30"/>
<line x1="491.80" y1="242.30" x2="498.40" y2="242.30" stroke="#2a2a2a" stroke-width="1.30"/>
<line x1="530.90" y1="166.90" x2="530.90" y2="187.70" stroke="#2a2a2a" stroke-width="1.30"/>
<line x1="527.60" y1="166.90" x2="534.20" y2="166.90" stroke="#2a2a2a" stroke-width="1.30"/>
<line x1="527.60" y1="187.70" x2="534.20" y2="187.70" stroke="#2a2a2a" stroke-width="1.30"/>
<line x1="477.30" y1="260.70" x2="477.30" y2="279.40" stroke="#2a2a2a" stroke-width="1.30"/>
<line x1="474.00" y1="260.70" x2="480.60" y2="260.70" stroke="#2a2a2a" stroke-width="1.30"/>
<line x1="474.00" y1="279.40" x2="480.60" y2="279.40" stroke="#2a2a2a" stroke-width="1.30"/>
<line x1="513.10" y1="241.50" x2="513.10" y2="269.00" stroke="#2a2a2a" stroke-width="1.30"/>
<line x1="509.80" y1="241.50" x2="516.40" y2="241.50" stroke="#2a2a2a" stroke-width="1.30"/>
<line x1="509.80" y1="269.00" x2="516.40" y2="269.00" stroke="#2a2a2a" stroke-width="1.30"/>
<line x1="548.60" y1="245.60" x2="548.60" y2="268.00" stroke="#2a2a2a" stroke-width="1.30"/>
<line x1="545.30" y1="245.60" x2="551.90" y2="245.60" stroke="#2a2a2a" stroke-width="1.30"/>
<line x1="545.30" y1="268.00" x2="551.90" y2="268.00" stroke="#2a2a2a" stroke-width="1.30"/>
<line x1="417.70" y1="267.30" x2="420.90" y2="267.30" stroke="#222" stroke-width="1.30"/>
<line x1="413.30" y1="270.20" x2="417.70" y2="270.20" stroke="#111" stroke-width="1.40"/>
<line x1="417.70" y1="283.90" x2="420.40" y2="283.90" stroke="#333" stroke-width="1.30"/>
<circle cx="417.70" cy="276.10" r="4.4" fill="none" stroke="#000" stroke-width="1.6"/>
<circle cx="459.40" cy="253.90" r="4.4" fill="none" stroke="#000" stroke-width="1.6"/>
<circle cx="495.10" cy="230.40" r="4.4" fill="none" stroke="#000" stroke-width="1.6"/>
<circle cx="530.90" cy="177.30" r="4.4" fill="none" stroke="#000" stroke-width="1.6"/>
<circle cx="417.70" cy="282.60" r="4.4" fill="none" stroke="#ff0000" stroke-width="1.6"/>
<circle cx="477.30" cy="269.90" r="4.4" fill="none" stroke="#ff0000" stroke-width="1.6"/>
<circle cx="513.10" cy="255.30" r="4.4" fill="none" stroke="#ff0000" stroke-width="1.6"/>
<circle cx="548.60" cy="257.30" r="4.4" fill="none" stroke="#ff0000" stroke-width="1.6"/>
<text x="572.60" y="127.10" font-size="23.40" text-anchor="start" font-weight="bold" fill="#000" textLength="17.6" lengthAdjust="spacingAndGlyphs">D</text>
<line x1="606.90" y1="148.00" x2="606.90" y2="303.40" stroke="#222" stroke-width="1.30"/>
<line x1="603.00" y1="299.80" x2="749.00" y2="299.80" stroke="#222" stroke-width="1.30"/>
<line x1="602.90" y1="148.00" x2="606.90" y2="148.00" stroke="#222" stroke-width="1.20"/>
<text x="595.00" y="152.60" font-size="14.12" text-anchor="end" font-weight="normal" fill="#111"  textLength="14.68" lengthAdjust="spacingAndGlyphs">80</text>
<line x1="602.90" y1="178.35" x2="606.90" y2="178.35" stroke="#222" stroke-width="1.20"/>
<text x="595.00" y="182.95" font-size="14.12" text-anchor="end" font-weight="normal" fill="#111"  textLength="14.68" lengthAdjust="spacingAndGlyphs">70</text>
<line x1="602.90" y1="208.70" x2="606.90" y2="208.70" stroke="#222" stroke-width="1.20"/>
<text x="595.00" y="213.30" font-size="14.12" text-anchor="end" font-weight="normal" fill="#111"  textLength="14.68" lengthAdjust="spacingAndGlyphs">60</text>
<line x1="602.90" y1="239.05" x2="606.90" y2="239.05" stroke="#222" stroke-width="1.20"/>
<text x="595.00" y="243.65" font-size="14.12" text-anchor="end" font-weight="normal" fill="#111"  textLength="14.68" lengthAdjust="spacingAndGlyphs">50</text>
<line x1="602.90" y1="269.40" x2="606.90" y2="269.40" stroke="#222" stroke-width="1.20"/>
<text x="595.00" y="274.00" font-size="14.12" text-anchor="end" font-weight="normal" fill="#111"  textLength="14.68" lengthAdjust="spacingAndGlyphs">40</text>
<line x1="602.90" y1="299.75" x2="606.90" y2="299.75" stroke="#222" stroke-width="1.20"/>
<text x="595.00" y="304.35" font-size="14.12" text-anchor="end" font-weight="normal" fill="#111"  textLength="14.68" lengthAdjust="spacingAndGlyphs">30</text>
<line x1="642.70" y1="299.80" x2="642.70" y2="303.40" stroke="#222" stroke-width="1.20"/>
<line x1="713.20" y1="299.80" x2="713.20" y2="303.40" stroke="#222" stroke-width="1.20"/>
<line x1="748.30" y1="299.80" x2="748.30" y2="303.40" stroke="#222" stroke-width="1.20"/>
<text x="568.60" y="229.00" font-size="14.98" text-anchor="middle" font-weight="normal" fill="#111"  textLength="9.34" lengthAdjust="spacingAndGlyphs">S</text>
<text x="643.10" y="315.00" font-size="9.00" text-anchor="middle" font-weight="bold" fill="#111" style="stroke:#111;stroke-width:0.35px">NO</text>
<text x="612.00" y="326.00" font-size="9.00" text-anchor="start" font-weight="bold" fill="#111" style="stroke:#111;stroke-width:0.35px" textLength="62.2" lengthAdjust="spacingAndGlyphs">COMPETITION</text>
<text x="716.60" y="315.00" font-size="9.00" text-anchor="middle" font-weight="bold" fill="#111" style="stroke:#111;stroke-width:0.35px">PYO</text>
<text x="685.30" y="326.00" font-size="9.00" text-anchor="start" font-weight="bold" fill="#111" style="stroke:#111;stroke-width:0.35px" textLength="62.8" lengthAdjust="spacingAndGlyphs">COMPETITION</text>
<line x1="642.80" y1="169.40" x2="642.80" y2="179.00" stroke="#111" stroke-width="1.30"/>
<line x1="640.40" y1="169.40" x2="645.20" y2="169.40" stroke="#111" stroke-width="1.30"/>
<line x1="713.10" y1="252.90" x2="713.10" y2="284.30" stroke="#222" stroke-width="1.30"/>
<line x1="709.70" y1="252.90" x2="716.50" y2="252.90" stroke="#222" stroke-width="1.30"/>
<line x1="709.70" y1="284.30" x2="716.50" y2="284.30" stroke="#222" stroke-width="1.30"/>
<circle cx="642.8" cy="174.3" r="4.5" fill="none" stroke="#000" stroke-width="1.6"/>
<circle cx="713.1" cy="269.0" r="4.5" fill="none" stroke="#000" stroke-width="1.6"/>
</svg>
</body></html>
